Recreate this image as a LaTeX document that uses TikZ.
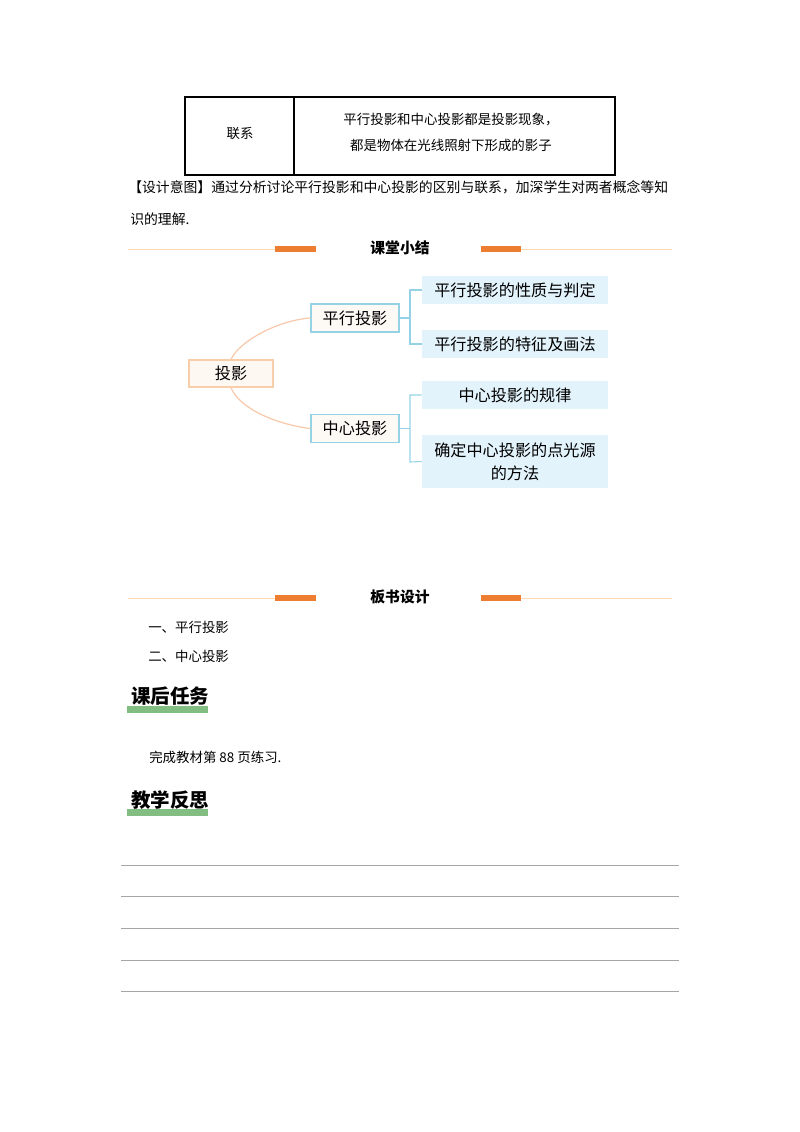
\documentclass[tikz,border=0pt]{standalone}
\usepackage{fontspec}
\setmainfont{Noto Sans CJK SC}
\begin{document}
\begin{tikzpicture}[x=0.744pt,y=-0.744pt,
  txt/.style={font=\fontsize{10}{12}\selectfont, inner sep=0pt},
  hd/.style={font=\fontsize{11}{13}\selectfont\bfseries, inner sep=0pt},
  big/.style={font=\fontsize{14.5}{16}\selectfont\bfseries, inner sep=0pt, anchor=west},
  thin/.style={draw=orange!30, line width=0.6pt},
  bar/.style={fill={rgb,255:red,237;green,125;blue,49}, draw=none},
  gbar/.style={fill={rgb,255:red,130;green,190;blue,130}, draw=none},
  mid/.style={draw={rgb,255:red,150;green,210;blue,230}, line width=0.9pt, fill={rgb,255:red,253;green,250;blue,246}, minimum width=88*0.744pt, minimum height=28*0.744pt, font=\fontsize{12}{13}\selectfont},
  leaf/.style={fill={rgb,255:red,227;green,243;blue,251}, draw=none, text width=188*0.744pt-8pt, align=center, font=\fontsize{12}{17}\selectfont},
  root/.style={draw={rgb,255:red,248;green,205;blue,170}, line width=0.9pt, fill={rgb,255:red,254;green,248;blue,242}, minimum width=84*0.744pt, minimum height=27*0.744pt, font=\fontsize{12}{13}\selectfont},
  brk/.style={draw={rgb,255:red,150;green,210;blue,230}, line width=0.8pt},
  crv/.style={draw={rgb,255:red,248;green,200;blue,170}, line width=0.9pt},
  rule/.style={draw=gray!70, line width=0.6pt}]
\useasboundingbox (0,0) rectangle (800,1132);
% table
\draw[line width=1.4pt] (185,97) rectangle (615,175);
\draw[line width=0.8pt] (294,97) -- (294,175);
\node[txt] (t1) at (240,133) {联系};
\node[txt] (t2) at (451,120) {平行投影和中心投影都是投影现象，};
\node[txt] (t3) at (451,145) {都是物体在光线照射下形成的影子};
\node[txt,anchor=west,font=\fontsize{10.3}{12}\selectfont] (d1) at (128,187) {【设计意图】通过分析讨论平行投影和中心投影的区别与联系，加深学生对两者概念等知};
\node[txt,anchor=west,font=\fontsize{10.3}{12}\selectfont] (d2) at (130,219) {识的理解.};
% header 1
\draw[thin] (128,249) -- (275,249); \draw[thin] (521,249) -- (672,249);
\fill[bar] (275,246) rectangle (316,252); \fill[bar] (481,246) rectangle (521,252);
\node[hd] (h1) at (400,248) {课堂小结};
% mind map
\node[root] (r) at (231,373.5) {投影};
\node[mid] (p) at (355,318) {平行投影};
\node[mid] (c) at (355,428.5) {中心投影};
\node[leaf, minimum height=28*0.744pt] (l1) at (515,290) {平行投影的性质与判定};
\node[leaf, minimum height=28*0.744pt] (l2) at (515,344) {平行投影的特征及画法};
\node[leaf, minimum height=28*0.744pt] (l3) at (515,395) {中心投影的规律};
\node[leaf, minimum height=53*0.744pt] (l4) at (515,461.5) {确定中心投影的点光源\\的方法};
\draw[crv] (r.north) .. controls (240,340) and (280,320) .. (p.west);
\draw[crv] (r.south) .. controls (240,410) and (280,425) .. (c.west);
\draw[brk] (p.east) -- (410,318);
\draw[brk] (l1.west) -- (410,290) -- (410,344) -- (l2.west);
\draw[brk] (c.east) -- (410,428.5);
\draw[brk] (l3.west) -- (410,395) -- (410,462) -- (l4.west);
% header 2
\draw[thin] (128,598) -- (275,598); \draw[thin] (521,598) -- (672,598);
\fill[bar] (275,595) rectangle (316,601); \fill[bar] (481,595) rectangle (521,601);
\node[hd] (h2) at (400,597) {板书设计};
\node[txt,anchor=west] (b1) at (148,627) {一、平行投影};
\node[txt,anchor=west] (b2) at (148,656) {二、中心投影};
\fill[gbar] (127,706) rectangle (208,713);
\node[big] (k1) at (131,696) {课后任务};
\node[txt,anchor=west] (w) at (149,757) {完成教材第 88 页练习.};
\fill[gbar] (127,809) rectangle (208,816);
\node[big] (k2) at (131,800) {教学反思};
\foreach \y in {865,896,928,960,991} \draw[rule] (121,\y) -- (679,\y);
\end{tikzpicture}
\end{document}
